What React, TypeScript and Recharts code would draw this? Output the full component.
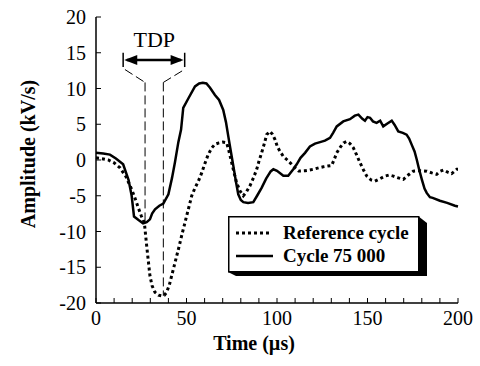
import React from 'react';
import {
  LineChart,
  Line,
  XAxis,
  YAxis,
  ReferenceLine,
  ReferenceDot,
  Legend,
} from 'recharts';

// Time axis (µs) and amplitude (kV/s)
const CYCLE_T = [
  0, 4, 7.7, 11, 15, 18, 19.7, 21, 23.5, 26, 28, 29.8, 31, 32.6, 35, 37.2, 40, 42, 43.6, 45.5,
  47, 48.2, 51, 54.7, 57, 59, 61, 63, 65.7, 68, 70.3, 71.8, 73.1, 74.5, 75.9, 77.3, 78.6, 80,
  81.4, 84, 86.9, 89, 91.5, 94, 96.5, 98, 100, 103.5, 106.2, 109, 110.9, 113, 115.5, 118.2, 121,
  123.8, 126.5, 129.3, 131, 133, 136.6, 140.3, 143, 145, 147, 148.6, 150, 151.4, 153, 155, 157,
  158.7, 161, 163.4, 165, 167, 169.5, 171.6, 173, 174.4, 176, 177.2, 178.5, 180, 181.5, 182.7,
  184.5, 186, 190, 194, 198.3, 200,
];
const CYCLE_V = [
  1.0, 0.9, 0.75, 0.2, -0.6, -2.8, -5.0, -7.9, -8.4, -8.85, -8.7, -8.3, -7.5, -6.9, -6.4, -6.1,
  -4.8, -2.5, -0.35, 2.5, 4.25, 7.3, 8.6, 10.3, 10.7, 10.8, 10.7, 10.1, 9.1, 8.4, 7.0, 5.3, 3.3,
  1.2, -0.86, -3.0, -4.8, -5.6, -5.9, -6.0, -5.9, -5.0, -3.9, -2.6, -1.6, -1.3, -1.5, -2.2, -2.2,
  -1.3, -0.6, 0.3, 1.0, 1.9, 2.3, 2.5, 2.7, 3.1, 3.8, 4.7, 5.4, 5.7, 6.2, 6.35, 5.8, 5.5, 6.0,
  5.9, 5.4, 5.2, 5.5, 4.7, 5.1, 5.5, 4.9, 4.0, 3.8, 3.55, 3.0, 2.15, 1.2, 0.07, -1.3, -2.7, -4.0,
  -4.6, -5.2, -5.3, -5.7, -6.0, -6.4, -6.5,
];

const REF_T = [
  0, 3, 6.8, 10, 13.3, 16.5, 19.7, 21.5, 23.4, 25, 26.7, 28, 29.8, 31, 32.6, 34.5, 36.3, 37.8,
  39, 40.5, 41.8, 43.2, 44.6, 46, 47.3, 48.7, 50.1, 51.5, 52.9, 54.7, 56.5, 58.4, 60, 62, 64,
  65.7, 68, 70, 72.2, 73.5, 75, 76.3, 77.7, 79.5, 81.4, 83, 85, 87, 88.8, 90, 91.5, 93, 94.3,
  96.1, 97.5, 98.9, 100.3, 101.7, 103.5, 105.4, 107.7, 110, 112, 115.5, 118, 120, 123, 125.6,
  128, 130.2, 131.5, 133, 135, 136.8, 138.5, 140.3, 142.2, 144, 145.9, 147.8, 149.6, 152, 154.1,
  157, 159.7, 162, 164.3, 167, 169.8, 172.5, 175.3, 179, 182.7, 185.5, 188.2, 190, 192, 194.3,
  196.5, 199.3, 200,
];
const REF_V = [
  0.3, 0.2, 0.0, -0.4, -1.1, -2.3, -4.1, -5.3, -6.7, -7.8, -8.75, -12.0, -16.2, -17.6, -18.5,
  -18.9, -19.0, -18.9, -18.5, -17.5, -16.2, -14.8, -13.4, -12.0, -10.6, -9.2, -7.8, -6.4, -5.0,
  -3.9, -3.0, -1.8, -0.6, 0.77, 1.7, 2.2, 2.4, 2.5, 2.4, 1.2, -0.4, -1.8, -3.2, -4.3, -5.0, -4.5,
  -3.65, -2.5, -1.3, -0.2, 1.0, 2.3, 3.55, 4.0, 3.6, 2.85, 1.8, 1.2, 0.5, 0.07, -0.5, -1.1, -1.55,
  -1.5, -1.4, -1.3, -1.1, -0.95, -0.85, -0.77, 0, 1.0, 1.8, 2.4, 2.6, 2.3, 1.7, 0.7, -0.4, -1.4,
  -2.25, -2.8, -2.95, -2.6, -2.25, -2.1, -2.25, -2.5, -2.7, -2.1, -1.56, -1.5, -1.56, -1.8, -2.0,
  -1.6, -1.4, -1.7, -1.9, -1.3, -1.3,
];

const X_TICKS = [0, 10, 20, 30, 40, 50, 60, 70, 80, 90, 100, 110, 120, 130, 140, 150, 160, 170, 180, 190, 200];
const Y_TICKS = [-20, -15, -10, -5, 0, 5, 10, 15, 20];

// TDP window marks (µs)
const TDP_START = 27.1;
const TDP_END = 37.2;

const cycleData = CYCLE_T.map((t, i) => ({ t, v: CYCLE_V[i] }));
const refData = REF_T.map((t, i) => ({ t, v: REF_V[i] }));

const FONT = '"Liberation Serif", "Times New Roman", serif';
const tickStyle = { fill: '#000', fontSize: 20, fontFamily: FONT };

function LegendBox() {
  return (
    <svg width={204} height={64} style={{ display: 'block' }}>
      <polygon points="190,0 199,7 199,60 8,60 0,56" fill="#000" />
      <rect x={0.75} y={0.75} width={190} height={55} fill="#fff" stroke="#000" strokeWidth={1.5} />
      <line x1={8} y1={17} x2={41} y2={17} stroke="#000" strokeWidth={3} strokeDasharray="3 3" />
      <line x1={8} y1={40} x2={45} y2={40} stroke="#000" strokeWidth={2.5} />
      <text x={55} y={23} fontFamily={FONT} fontWeight="bold" fontSize={19}>Reference cycle</text>
      <text x={55} y={46} fontFamily={FONT} fontWeight="bold" fontSize={19}>Cycle 75 000</text>
    </svg>
  );
}

const arrowLeft = (p: any) => (
  <polygon points={`${p.cx},${p.cy} ${p.cx + 13},${p.cy - 5} ${p.cx + 13},${p.cy + 5}`} fill="#000" />
);
const arrowRight = (p: any) => (
  <polygon points={`${p.cx},${p.cy} ${p.cx - 13},${p.cy - 5} ${p.cx - 13},${p.cy + 5}`} fill="#000" />
);
const tdpText = (p: any) => (
  <text x={p.cx} y={p.cy} textAnchor="middle" fontFamily={FONT} fontSize={22} fill="#000">TDP</text>
);

export default function App() {
  const dash = { stroke: '#000', strokeWidth: 1, strokeDasharray: '9 4', xAxisId: 'x', yAxisId: 'left', ifOverflow: 'visible' as const };
  return (
    <div style={{ position: 'absolute', left: 0, top: 0, width: 480, height: 366, background: '#fff' }}>
      <LineChart
        width={480}
        height={366}
        margin={{ top: 17, right: 22, bottom: 0, left: 0 }}
        style={{ fontFamily: FONT }}
      >
        <XAxis
          xAxisId="x"
          dataKey="t"
          type="number"
          domain={[0, 200]}
          ticks={X_TICKS}
          interval={0}
          height={63}
          tickSize={-5}
          tickMargin={13}
          tick={tickStyle}
          tickFormatter={(v: number) => (v % 50 === 0 ? String(v) : '')}
          axisLine={{ stroke: '#000', strokeWidth: 1.5 }}
          tickLine={{ stroke: '#000' }}
          label={{
            content: () => (
              <text x={254} y={350} textAnchor="middle" fontFamily={FONT} fontWeight="bold" fontSize={20} fill="#000">
                Time (µs)
              </text>
            ),
          }}
        />
        <XAxis
          xAxisId="top"
          orientation="top"
          dataKey="t"
          type="number"
          domain={[0, 200]}
          ticks={X_TICKS}
          interval={0}
          height={0}
          tickSize={-5}
          tickFormatter={() => ''}
          axisLine={{ stroke: '#000', strokeWidth: 1.5 }}
          tickLine={{ stroke: '#000' }}
        />
        <YAxis
          yAxisId="left"
          type="number"
          domain={[-20, 20]}
          ticks={Y_TICKS}
          interval={0}
          width={96}
          tickSize={-5}
          tickMargin={15}
          tick={tickStyle}
          axisLine={{ stroke: '#000', strokeWidth: 1.5 }}
          tickLine={{ stroke: '#000' }}
          label={{
            content: () => (
              <text
                x={35}
                y={154}
                transform="rotate(-90 35 154)"
                textAnchor="middle"
                fontFamily={FONT}
                fontWeight="bold"
                fontSize={20}
                fill="#000"
              >
                Amplitude (kV/s)
              </text>
            ),
          }}
        />
        <YAxis
          yAxisId="right"
          orientation="right"
          type="number"
          domain={[-20, 20]}
          ticks={Y_TICKS}
          interval={0}
          width={0}
          tickSize={-5}
          tickFormatter={() => ''}
          axisLine={{ stroke: '#000', strokeWidth: 1.5 }}
          tickLine={{ stroke: '#000' }}
        />

        <Line
          xAxisId="x"
          yAxisId="left"
          data={refData}
          dataKey="v"
          name="Reference cycle"
          type="linear"
          stroke="#000"
          strokeWidth={3}
          strokeDasharray="3 3"
          dot={false}
          isAnimationActive={false}
        />
        <Line
          xAxisId="x"
          yAxisId="left"
          data={cycleData}
          dataKey="v"
          name="Cycle 75 000"
          type="linear"
          stroke="#000"
          strokeWidth={2.5}
          dot={false}
          isAnimationActive={false}
        />

        {/* TDP annotation */}
        <ReferenceLine {...dash} segment={[{ x: TDP_START, y: 10.85 }, { x: TDP_START, y: -8.8 }]} />
        <ReferenceLine {...dash} segment={[{ x: TDP_END, y: 10.85 }, { x: TDP_END, y: -19 }]} />
        <ReferenceLine {...dash} segment={[{ x: 16, y: 12.65 }, { x: TDP_START, y: 10.85 }]} />
        <ReferenceLine {...dash} segment={[{ x: TDP_END, y: 10.85 }, { x: 48.8, y: 12.65 }]} />
        <ReferenceLine xAxisId="x" yAxisId="left" ifOverflow="visible" stroke="#000" strokeWidth={2.5}
          segment={[{ x: 17, y: 14 }, { x: 47, y: 14 }]} />
        <ReferenceLine xAxisId="x" yAxisId="left" ifOverflow="visible" stroke="#000" strokeWidth={1.5}
          segment={[{ x: 15, y: 15 }, { x: 15, y: 13 }]} />
        <ReferenceLine xAxisId="x" yAxisId="left" ifOverflow="visible" stroke="#000" strokeWidth={1.5}
          segment={[{ x: 49, y: 15 }, { x: 49, y: 13 }]} />
        <ReferenceDot xAxisId="x" yAxisId="left" x={15.6} y={14} r={0} shape={arrowLeft} ifOverflow="visible" />
        <ReferenceDot xAxisId="x" yAxisId="left" x={48.4} y={14} r={0} shape={arrowRight} ifOverflow="visible" />
        <ReferenceDot xAxisId="x" yAxisId="left" x={32.2} y={15.86} r={0} shape={tdpText} ifOverflow="visible" />

        <Legend
          layout="horizontal"
          verticalAlign="middle"
          align="center"
          content={() => <LegendBox />}
          wrapperStyle={{ position: 'absolute', left: 228, top: 216, width: 204, height: 64 }}
        />
      </LineChart>
    </div>
  );
}
